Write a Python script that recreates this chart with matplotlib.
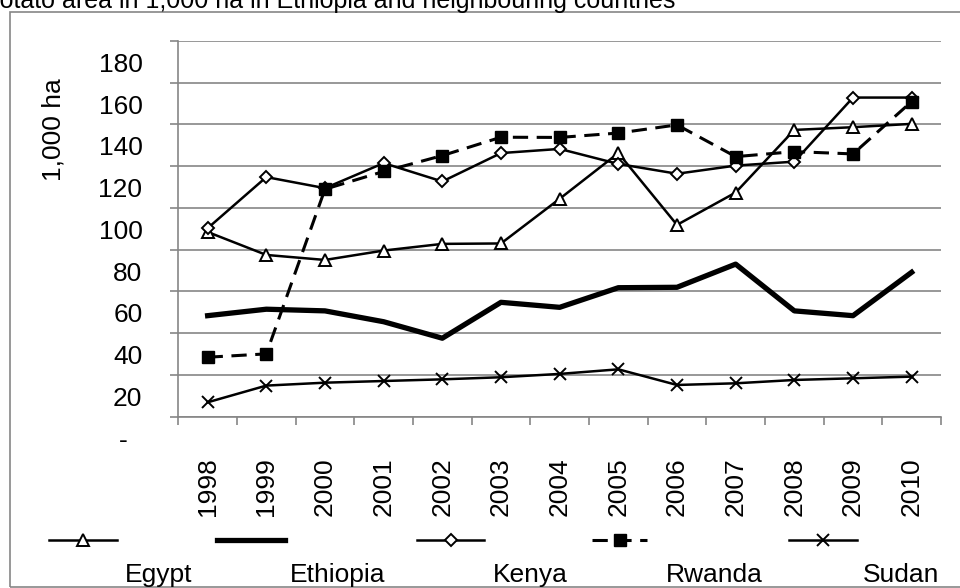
import matplotlib
matplotlib.use("Agg")
import matplotlib.pyplot as plt
import matplotlib.transforms as mtransforms
from matplotlib.lines import Line2D
from matplotlib.patches import Rectangle

plt.rcParams['font.family'] = ['Liberation Sans', 'DejaVu Sans']

# potato area, 1,000 ha
years = ['1998', '1999', '2000', '2001', '2002', '2003', '2004',
         '2005', '2006', '2007', '2008', '2009', '2010']
egypt = [88.5, 77.5, 75.1, 79.6, 82.8, 83.0, 104.4, 126.3, 91.9, 107.4, 137.4, 138.7, 140.3]
ethiopia = [48.4, 51.5, 50.7, 45.5, 37.6, 54.8, 52.4, 61.8, 62.0, 73.1, 50.7, 48.4, 69.2]
kenya = [90.3, 114.8, 109.5, 121.5, 112.7, 126.3, 128.3, 121.1, 116.4, 120.3, 122.2, 152.9, 152.9]
rwanda = [28.5, 30.1, 109.0, 117.5, 125.1, 133.9, 133.8, 135.9, 139.8, 124.6, 127.0, 125.9, 151.0]
sudan = [6.9, 14.9, 16.3, 17.1, 17.9, 18.9, 20.5, 22.7, 15.2, 16.0, 17.6, 18.4, 19.2]
countries = ['Egypt', 'Ethiopia', 'Kenya', 'Rwanda', 'Sudan']
yticks = [0, 20, 40, 60, 80, 100, 120, 140, 160, 180]
ytick_labels = ['-  ', '20', '40', '60', '80', '100', '120', '140', '160', '180']

W, H = 960, 588
GRAY = '#868686'
FS = 19

fig = plt.figure(figsize=(9.6, 5.88), dpi=100)
ax = fig.add_axes([178.3 / W, 1 - 416.7 / H, (941 - 178.3) / W, (416.7 - 41) / H])

x = list(range(len(years)))
styles = {
    'Egypt': dict(color='black', lw=1.8, marker='^', ms=9, mfc='white', mec='black', mew=1.4),
    'Ethiopia': dict(color='black', lw=3.8),
    'Kenya': dict(color='black', lw=1.8, marker='D', ms=6.5, mfc='white', mec='black', mew=1.4),
    'Rwanda': dict(color='black', lw=2.2, ls=(0, (5, 2.8)), marker='s', ms=9, mfc='black', mec='black'),
    'Sudan': dict(color='black', lw=1.8, marker='x', ms=9, mec='black', mew=1.4),
}
series = {'Egypt': egypt, 'Ethiopia': ethiopia, 'Kenya': kenya, 'Rwanda': rwanda, 'Sudan': sudan}
for name in countries:
    ax.plot(x, series[name], clip_on=False, **styles[name])

ax.set_xlim(-0.5, len(years) - 0.5)
ax.set_ylim(0, 180)

# axes look
for s in ['top', 'right']:
    ax.spines[s].set_visible(False)
for s in ['left', 'bottom']:
    ax.spines[s].set_color(GRAY)
    ax.spines[s].set_linewidth(1.2)
ax.set_axisbelow(True)
ax.yaxis.grid(True, color=GRAY, lw=1.2)

ax.set_yticks(yticks)
ax.set_yticklabels(ytick_labels, fontsize=FS)
ax.tick_params(axis='y', direction='out', length=5.8, width=1.2, color=GRAY, pad=20)
offset = mtransforms.ScaledTranslation(0, -21.5 / 100, fig.dpi_scale_trans)
for lab in ax.get_yticklabels():
    lab.set_transform(lab.get_transform() + offset)

ax.set_xticks(x)
ax.set_xticklabels(years, rotation=90, fontsize=FS, va='top')
ax.set_xticks([i - 0.5 for i in range(len(years) + 1)], minor=True)
ax.tick_params(axis='x', which='major', length=0, pad=29)
ax.tick_params(axis='x', which='minor', direction='out', length=5.8, width=1.2, color=GRAY)

fig.text(53 / W, 1 - 130 / H, '1,000 ha', rotation=90, fontsize=FS, ha='center', va='center')

# title, cut at the left edge as in the source
fig.text(675 / W, 1 - 8 / H, 'Potato area in 1,000 ha in Ethiopia and neighbouring countries',
         fontsize=18, ha='right', va='baseline')

# chart frame
fig.add_artist(Rectangle((10 / W, 1.3 / H), 1.0, (575.7 - 1.3) / H, transform=fig.transFigure,
                         fill=False, edgecolor=GRAY, lw=1.2))

# legend, drawn by hand: line on top, name below
leg_lines = {'Egypt': (49, 117), 'Ethiopia': (217, 285), 'Kenya': (417, 484),
             'Rwanda': (592, 647), 'Sudan': (789, 857)}
leg_text = {'Egypt': 125, 'Ethiopia': 290, 'Kenya': 493, 'Rwanda': 666, 'Sudan': 863}
for name in countries:
    x0, x1 = leg_lines[name]
    st = dict(styles[name])
    ln = Line2D([x0 / W, (x0 + x1) / 2 / W, x1 / W], [1 - 540 / H] * 3,
                transform=fig.transFigure, markevery=[1], **st)
    fig.add_artist(ln)
    fig.text(leg_text[name] / W, 1 - 582 / H, name, fontsize=FS, ha='left', va='baseline')

fig.savefig('out.png', dpi=100)
